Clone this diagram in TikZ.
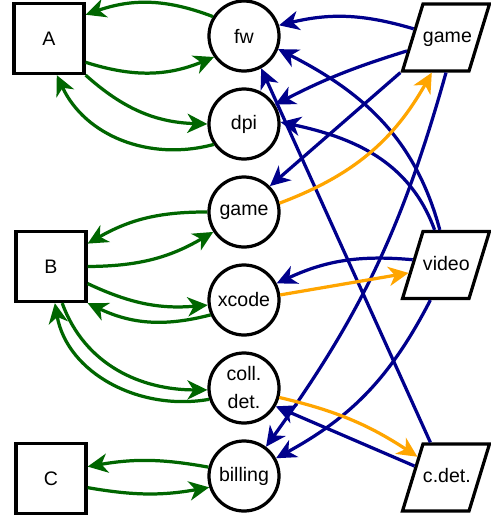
\documentclass[tikz,border=0pt]{standalone}
\usepackage{fontspec}
\setmainfont{Liberation Sans}
\usetikzlibrary{arrows.meta,shapes.geometric}
\definecolor{flowgreen}{RGB}{0,102,0}
\definecolor{flownavy}{RGB}{0,0,140}
\definecolor{floworange}{RGB}{255,165,0}

\begin{document}
\begin{tikzpicture}[x=0.025cm, y=-0.025cm,
  every node/.style={font=\fontsize{13.9}{19.9}\selectfont},
  party/.style={draw, line width=2.3pt, rectangle, minimum size=1.75cm},
  service/.style={draw, line width=2.3pt, circle, minimum size=1.75cm, inner sep=0pt, align=center},
  channel/.style={draw, line width=2.3pt, trapezium, trapezium left angle=73, trapezium right angle=107,
    text width=1.15cm, align=center, text height=0.36cm, text depth=0.1cm,
    inner xsep=0pt, inner ysep=0.6075cm},
  link/.style={line width=2.3pt, -{Stealth[length=0.5cm,width=0.48cm,inset=0.15cm]}},
  greenlink/.style={link, flowgreen},
  navylink/.style={link, flownavy},
  orangelink/.style={link, floworange}]
\useasboundingbox (0,0) rectangle (491,521);
% Parties:
\node (A) [party] at (49,38.5) {A};
\node (B) [party] at (51,266.5) {B};
\node (C) [party] at (51,478.5) {C};
% Services:
\node (fw) [service] at (244,36) {fw};
\node (dpi) [service] at (244,124) {dpi};
\node (gameS) [service] at (244,212) {game};
\node (xcode) [service] at (244,300) {xcode};
\node (collDet) [service] at (244,388) {coll.\\det.};
\node (billing) [service] at (244,476) {billing};
% Channels:
\node (gameC) [channel] at (446,37.5) {game};
\node (videoC) [channel] at (446,265) {video};
\node (cdetC) [channel] at (446,477.5) {c.det.};
% Parties <-> services:
\draw[greenlink] (fw.148) to[bend right=20] (A.33);
\draw[greenlink] (A.-33) to[bend right=20] (fw.215);
\draw[greenlink] (A.south east) to[bend right=20] (dpi.180);
\draw[greenlink] (dpi.214) to[out=195,in=-65] (A.-78);
\draw[greenlink] (gameS.180) to[bend right=15] (B.32);
\draw[greenlink] (B.0) to[bend right=15] (gameS.213);
\draw[greenlink] (B.-25) to[bend right=15] (xcode.188);
\draw[greenlink] (xcode.204) to[bend left=20] (B.south east);
\draw[greenlink] (B.-73) to[out=-70,in=180] (collDet.183);
\draw[greenlink] (collDet.198) to[out=190,in=-80] (B.-84);
\draw[greenlink] (billing.166) to[bend right=10] (C.18);
\draw[greenlink] (C.-14) to[bend right=10] (billing.198);
% Channels -> services:
\draw[navylink] (gameC.165) to[bend right=15] (fw.17);
\draw[navylink] (gameC.199) to[bend right=5] (dpi.32);
\draw[navylink] (gameC.bottom left corner) -- (gameS.45);
\draw[navylink] (gameC.south) to[bend left=10] (billing.53);
\draw[navylink] (videoC.100) to[out=105,in=-27] (fw.-21);
\draw[navylink] (videoC.108) to[out=110,in=-12] (dpi.3);
\draw[navylink] (videoC.171) to[bend right=15] (xcode.27);
\draw[navylink] (videoC.-114) to[bend left=17] (billing.29);
\draw[navylink] (cdetC.114) -- (fw.-62);
\draw[navylink] (cdetC.160) -- (collDet.-30);
% Services -> channels:
\draw[orangelink] (gameS.14) to[bend right=20] (gameC.-112);
\draw[orangelink] (xcode.8) -- (videoC.192);
\draw[orangelink] (collDet.-15) to[bend left=10] (cdetC.144);
\end{tikzpicture}
\end{document}
